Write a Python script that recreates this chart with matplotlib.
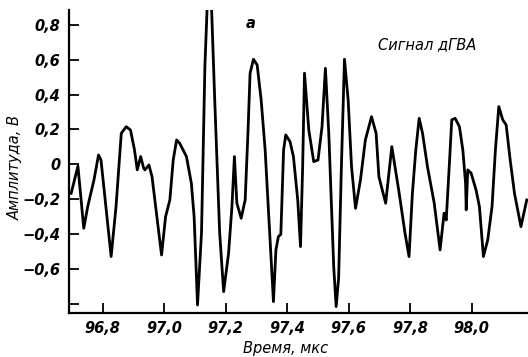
import matplotlib
matplotlib.use("Agg")
import matplotlib.pyplot as plt

time_us = [96.697, 96.719, 96.738, 96.751, 96.771, 96.786, 96.794, 96.827, 96.843,
           96.860, 96.876, 96.890, 96.903, 96.912, 96.923, 96.933, 96.937, 96.950,
           96.960, 96.991, 97.004, 97.018, 97.029, 97.040, 97.050, 97.072, 97.088,
           97.097, 97.108, 97.121, 97.132, 97.140, 97.146, 97.153, 97.164, 97.180,
           97.193, 97.209, 97.220, 97.228, 97.236, 97.250, 97.263, 97.272, 97.279,
           97.290, 97.302, 97.315, 97.328, 97.344, 97.355, 97.363, 97.371, 97.379,
           97.388, 97.395, 97.409, 97.420, 97.434, 97.443, 97.450, 97.456, 97.470,
           97.486, 97.500, 97.513, 97.524, 97.535, 97.551, 97.559, 97.567, 97.576,
           97.586, 97.598, 97.609, 97.622, 97.638, 97.654, 97.674, 97.689, 97.698,
           97.720, 97.740, 97.764, 97.783, 97.796, 97.807, 97.818, 97.829, 97.840,
           97.856, 97.878, 97.897, 97.910, 97.917, 97.928, 97.935, 97.946, 97.960,
           97.971, 97.980, 97.982, 97.987, 97.998, 98.014, 98.025, 98.038, 98.052,
           98.066, 98.077, 98.088, 98.101, 98.112, 98.125, 98.139, 98.160, 98.179]
amplitude_v = [-0.165, -0.010, -0.365, -0.240, -0.090, 0.054, 0.026, -0.527, -0.240,
               0.178, 0.216, 0.197, 0.083, -0.031, 0.045, -0.022, -0.031, -0.003,
               -0.070, -0.518, -0.300, -0.203, 0.026, 0.140, 0.121, 0.045, -0.108,
               -0.300, -0.804, -0.390, 0.560, 0.930, 0.960, 0.930, 0.369, -0.390,
               -0.728, -0.508, -0.240, 0.045, -0.222, -0.308, -0.203, 0.178, 0.522,
               0.602, 0.569, 0.369, 0.083, -0.432, -0.785, -0.489, -0.413, -0.400,
               0.083, 0.169, 0.130, 0.045, -0.203, -0.470, -0.013, 0.522, 0.197,
               0.016, 0.026, 0.216, 0.550, 0.178, -0.585, -0.813, -0.650, -0.013,
               0.602, 0.369, -0.013, -0.251, -0.089, 0.140, 0.273, 0.178, -0.070,
               -0.222, 0.102, -0.165, -0.394, -0.527, -0.165, 0.083, 0.264, 0.178,
               -0.013, -0.222, -0.489, -0.279, -0.318, 0.026, 0.255, 0.264, 0.216,
               0.083, -0.108, -0.260, -0.031, -0.050, -0.146, -0.241, -0.527, -0.432,
               -0.241, 0.083, 0.331, 0.255, 0.226, 0.026, -0.165, -0.356, -0.203]

xticks = [96.8, 97.0, 97.2, 97.4, 97.6, 97.8, 98.0]
xtick_labels = ["96,8", "97,0", "97,2", "97,4", "97,6", "97,8", "98,0"]
yticks = [0.8, 0.6, 0.4, 0.2, 0.0, -0.2, -0.4, -0.6, -0.8]
ytick_labels = ["0,8", "0,6", "0,4", "0,2", "0", "\u22120,2", "\u22120,4", "\u22120,6", ""]

fig = plt.figure(figsize=(5.28, 3.57), dpi=100)
ax = fig.add_axes([0.1307, 0.1232, 0.8693, 0.849])
ax.plot(time_us, amplitude_v, color="black", lw=2.0, solid_joinstyle="round")
ax.set_xlim(96.69, 98.183)
ax.set_ylim(-0.85, 0.884)

for s in ["top", "right"]:
    ax.spines[s].set_visible(False)
for s in ["left", "bottom"]:
    ax.spines[s].set_linewidth(1.6)

fkw = dict(fontstyle="italic", fontweight="bold", fontsize=10.5)
ax.set_xticks(xticks)
ax.set_xticklabels(xtick_labels, **fkw)
ax.set_yticks(yticks)
ax.set_yticklabels(ytick_labels, **fkw)
ax.tick_params(direction="in", length=7, width=1.3, pad=6)

ax.text(0.395, 0.955, "a", transform=ax.transAxes, ha="center", va="center", **fkw)
ax.text(0.78, 0.885, "Сигнал дГВА", transform=ax.transAxes, ha="center", va="center",
        fontstyle="italic", fontsize=10.5)
fig.text(0.028, 0.53, "Амплитуда, В", rotation=90, ha="center", va="center",
         fontstyle="italic", fontsize=10.5)
fig.text(0.54, 0.025, "Время, мкс", ha="center", va="center",
         fontstyle="italic", fontsize=10.5)

fig.savefig("out.png", dpi=100)
